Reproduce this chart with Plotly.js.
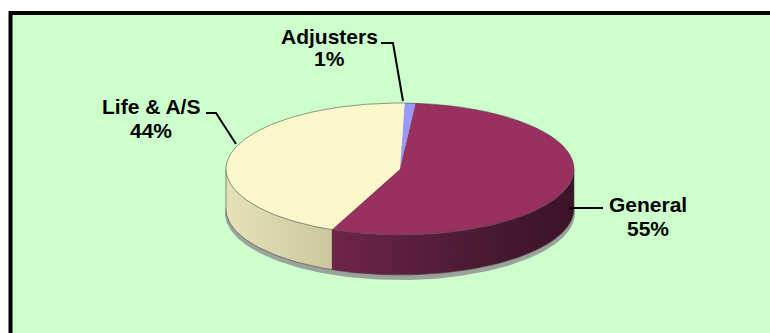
<!DOCTYPE html>
<html>
<head>
<meta charset="utf-8">
<script src="https://cdn.plot.ly/plotly-3.0.1.min.js"></script>
<style>html,body{margin:0;padding:0;background:#fff;}#chart{width:770px;height:333px;}</style>
</head>
<body>
<div id="chart"></div>
<script>
// ---- data ----
const labels = ['Adjusters', 'General', 'Life & A/S'];
const values = [1, 55, 44];

// ---- style ----
const topColors = ['#9999FF', '#98315F', '#FAF8CA'];
const sideScales = [
  [[0, '#7A7ACC'], [1, '#5A5AAA']],
  [[0, '#6E2449'], [0.6, '#4A1A33'], [1, '#3A1327']],
  [[0, '#E6E2B8'], [1, '#CBC79E']]
];
const geo = {cx: 400, cy: 169, a: 174, b: 66, depth: 40, rot: 1.5};
const labelPos = [
  {x: 329, y1: 36, y2: 58, path: 'M 381 43 L 393 43 L 403 101'},
  {x: 648, y1: 204, y2: 228, path: 'M 569 208 L 603 208'},
  {x: 151, y1: 106, y2: 130, path: 'M 206 113 L 216 113 L 236 144'}
];
const labelFont = {family: 'Liberation Sans, Arial, sans-serif', size: 21, color: '#000'};

function pt(theta, dy, da) {
  const r = (theta + geo.rot) * Math.PI / 180;
  return [geo.cx + (geo.a + (da || 0)) * Math.sin(r), geo.cy - (geo.b + (da || 0)) * Math.cos(r) + (dy || 0)];
}
function arc(t1, t2, dy, da) {
  const n = Math.max(2, Math.ceil(Math.abs(t2 - t1)));
  const out = [];
  for (let i = 0; i <= n; i++) out.push(pt(t1 + (t2 - t1) * i / n, dy, da));
  return out;
}
function toXY(points) {
  return {x: points.map(p => p[0]), y: points.map(p => p[1])};
}

const total = values.reduce((s, v) => s + v, 0);
const slices = [];
let acc = 0;
values.forEach((v, i) => {
  const t1 = acc / total * 360;
  acc += v;
  const t2 = acc / total * 360;
  slices.push({t1, t2, i});
});

const traces = [];
// shadow below the pie
{
  const sh = toXY(arc(0, 360, geo.depth + 4, 1));
  traces.push({type: 'scatter', mode: 'lines', x: sh.x, y: sh.y, fill: 'toself',
    fillcolor: '#9AA29A', line: {width: 0}, hoverinfo: 'skip'});
}
// side walls (front half only)
const front1 = 90 - geo.rot, front2 = 270 - geo.rot;
slices.forEach(s => {
  const a1 = Math.max(s.t1, front1), a2 = Math.min(s.t2, front2);
  if (a2 <= a1) return;
  const pts = arc(a1, a2, 0).concat(arc(a2, a1, geo.depth));
  pts.push(pts[0]);
  const xy = toXY(pts);
  traces.push({type: 'scatter', mode: 'lines', x: xy.x, y: xy.y, fill: 'toself',
    fillgradient: {type: 'horizontal', colorscale: sideScales[s.i]},
    line: {width: 0}, hoverinfo: 'skip'});
});
// side outline
{
  const bot = toXY(arc(front1, front2, geo.depth));
  traces.push({type: 'scatter', mode: 'lines', x: bot.x, y: bot.y,
    line: {color: 'rgba(70,70,70,0.6)', width: 1}, hoverinfo: 'skip'});
  [front1, front2].forEach(t => {
    const p = pt(t, 0), q = pt(t, geo.depth);
    traces.push({type: 'scatter', mode: 'lines', x: [p[0], q[0]], y: [p[1], q[1]],
      line: {color: 'rgba(70,70,70,0.6)', width: 1}, hoverinfo: 'skip'});
  });
}
// top faces
slices.forEach(s => {
  const pts = [[geo.cx, geo.cy]].concat(arc(s.t1, s.t2, 0));
  pts.push([geo.cx, geo.cy]);
  const xy = toXY(pts);
  traces.push({type: 'scatter', mode: 'lines', x: xy.x, y: xy.y, fill: 'toself',
    fillcolor: topColors[s.i], line: {width: 0}, name: labels[s.i], hoverinfo: 'name'});
});
// top outline
{
  const o = toXY(arc(0, 360, 0));
  traces.push({type: 'scatter', mode: 'lines', x: o.x, y: o.y,
    line: {color: 'rgba(70,70,70,0.55)', width: 1}, hoverinfo: 'skip'});
}

const annotations = [];
values.forEach((v, i) => {
  annotations.push({x: labelPos[i].x, y: labelPos[i].y1, xref: 'x', yref: 'y',
    text: '<b>' + labels[i] + '</b>', showarrow: false, xanchor: 'center', yanchor: 'middle', font: labelFont});
  annotations.push({x: labelPos[i].x, y: labelPos[i].y2, xref: 'x', yref: 'y',
    text: '<b>' + Math.round(v / total * 100) + '%</b>', showarrow: false, xanchor: 'center', yanchor: 'middle', font: labelFont});
});

const shapes = [
  {type: 'rect', xref: 'x', yref: 'y', x0: 10.5, y0: 13, x1: 800, y1: 400,
   fillcolor: '#CCFFCC', line: {color: '#000', width: 4}, layer: 'below'}
].concat(labelPos.map(p => ({type: 'path', xref: 'x', yref: 'y', path: p.path,
   line: {color: '#000', width: 2}, layer: 'above'})));

const layout = {
  width: 770, height: 333,
  margin: {l: 0, r: 0, t: 0, b: 0},
  paper_bgcolor: '#FFFFFF', plot_bgcolor: '#FFFFFF',
  showlegend: false,
  xaxis: {range: [0, 770], visible: false, fixedrange: true},
  yaxis: {range: [333, 0], visible: false, fixedrange: true},
  shapes: shapes,
  annotations: annotations
};

Plotly.newPlot('chart', traces, layout, {displayModeBar: false, staticPlot: true});
</script>
</body>
</html>
